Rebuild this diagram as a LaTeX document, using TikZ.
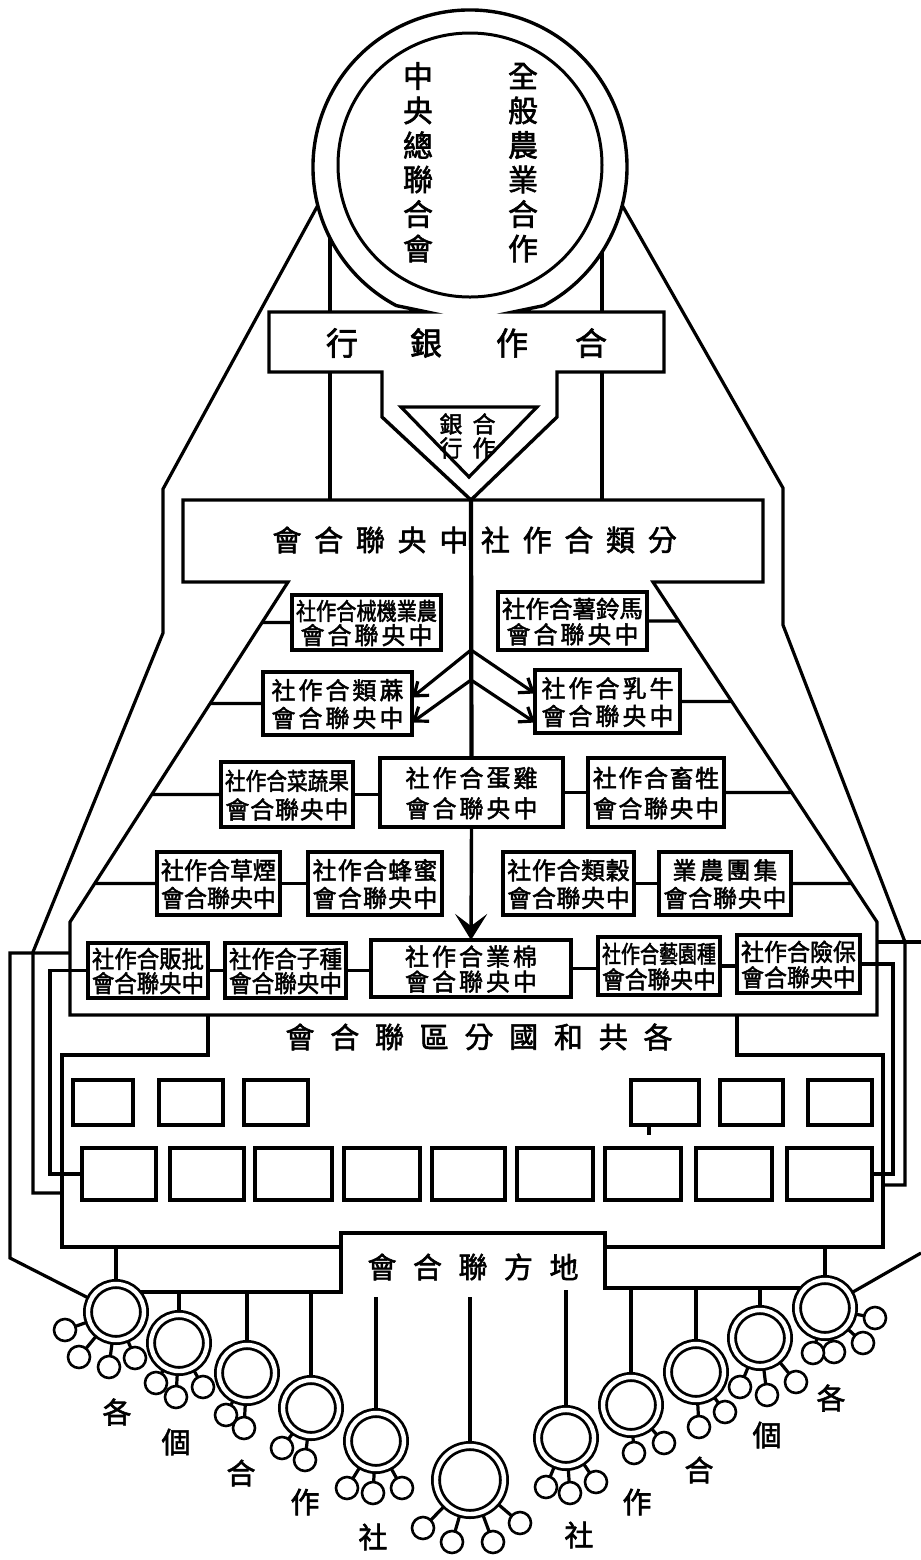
\documentclass[tikz,border=0pt]{standalone}
\usepackage{fontspec}
\usepackage{graphicx}
\usetikzlibrary{arrows.meta,calc}
\newfontfamily\cjk{Noto Sans CJK TC}[FakeBold=2]
\pgfdeclarelayer{bg}
\pgfsetlayers{bg,main}
\newcommand\fsz[1]{\fontsize{#1}{#1}\selectfont}
\newcommand\spreadline[5]{%
  \pgfmathsetmacro\myCell{min(27,(#2-#1-8)/#4)}%
  \pgfmathsetmacro\mySc{min(1,\myCell/24)}%
  \foreach \myc [count=\i] in {#5}{%
    \node[btxt] at ({(#1+#2)/2+(\i-(#4+1)/2)*\myCell},#3) {\scalebox{\mySc}[1]{\myc}};
  }%
}
\newcommand\mkbox[9]{%
  \node[bx, minimum width={(#4-#2)*0.5pt}, minimum height={(#5-#3)*0.5pt}] (#1) at ({(#2+#4)/2},{(#3+#5)/2}) {};
  \pgfmathsetmacro\myYa{#3+0.29*(#5-#3)}%
  \pgfmathsetmacro\myYb{#3+0.73*(#5-#3)}%
  \spreadline{#2}{#4}{\myYa}{#6}{#7}%
  \spreadline{#2}{#4}{\myYb}{#8}{#9}%
}
\begin{document}
\begin{tikzpicture}[x=0.5pt,y=-0.5pt,
  fr/.style={line width=1.6pt, line join=miter},
  bx/.style={draw, line width=1.9pt, fill=white, inner sep=0pt, outer sep=0pt},
  sq/.style={draw, line width=1.8pt, fill=white, inner sep=0pt, outer sep=0pt},
  btxt/.style={inner sep=0pt, font=\cjk\fsz{12pt}},
  mtxt/.style={inner sep=0pt, font=\cjk\fsz{14.5pt}},
  ktxt/.style={inner sep=0pt, font=\cjk\fsz{16pt}},
  rtxt/.style={inner sep=0pt, font=\cjk\fsz{15pt}},
  ttxt/.style={inner sep=0pt, font=\cjk\fsz{11.5pt}},
  bigc/.style={circle, draw, line width=1.4pt, double=white, double distance=2.2pt, fill=white, minimum size=28pt, inner sep=0pt},
  hugec/.style={bigc, minimum size=34pt},
  smc/.style={circle, draw, line width=1.3pt, fill=white, minimum size=11pt, inner sep=0pt},
]
\useasboundingbox (0,0) rectangle (921,1560);
\begin{pgfonlayer}{bg}
\fill[white] (0,0) rectangle (921,1560);
\end{pgfonlayer}

% ---------- key coordinates ----------
\coordinate (ringC) at (470,167);
\coordinate (ringL) at (318,205);
\coordinate (ringR) at (622,205);
\coordinate (fl1) at (288,582); \coordinate (fl2) at (70,922);
\coordinate (fr1) at (653,582); \coordinate (fr2) at (877,922);
\coordinate (tip) at (471,500);
\coordinate (m1) at (471,650);
\coordinate (m2) at (471,680);

% ---------- outer frame lines ----------
\draw[fr] (ringL) -- (163,489) -- (163,633) -- (33,952) -- (33,1193) -- (62,1193);
\draw[fr] (ringR) -- (783,488) -- (783,625) -- (905,942) -- (905,1185) -- (883,1185);
\draw[fr] (330,238) -- (330,312);
\draw[fr] (330,372) -- (330,500);
\draw[fr] (602,252) -- (602,312);
\draw[fr] (602,372) -- (602,500);

% ---------- ring + bank ----------
\draw[line width=1.7pt, fill=white, line join=miter] (427,312) -- (269,312) -- (269,372) -- (382,372) -- (382,417) -- (tip) -- (557,417) -- (557,372) -- (664,372) -- (664,312) -- (513,312) -- (543.7,305.6) arc[start angle=62, end angle=-242, radius=157] -- cycle;
\draw[line width=1.5pt] (470,165) circle[radius=132];
\foreach \ch [count=\i] in {中,央,總,聯,合,會} \node[rtxt] (rl\i) at (418,{76+34.5*(\i-1)}) {\ch};
\foreach \ch [count=\i] in {全,般,農,業,合,作} \node[rtxt] (rr\i) at (523,{76+34.5*(\i-1)}) {\ch};
\foreach \ch/\xx [count=\i] in {行/342,銀/426,作/512,合/591} \node[ktxt] (bk\i) at (\xx,343) {\ch};
\draw[line width=1.6pt, fill=white, line join=miter] (401,407) -- (537,407) -- (469,477) -- cycle;
\node[ttxt] (t1) at (451,424) {銀};
\node[ttxt] (t2) at (484,424) {合};
\node[ttxt] (t3) at (451,448) {行};
\node[ttxt] (t4) at (484,448) {作};

% ---------- classification frame ----------
\draw[fr] (183,500) -- (763,500) -- (763,582) -- (fr1) -- (fr2) -- (877,1015) -- (70,1015) -- (fl2) -- (fl1) -- (183,582) -- cycle;
\foreach \ch [count=\i] in {會,合,聯,央,中,社,作,合,類,分} \node[mtxt] (fx\i) at ({287+41.7*(\i-1)},540) {\ch};

% ---------- republic frame ----------
\draw[fr] (208,1015) -- (208,1055) -- (62,1055) -- (62,1247) -- (341,1247) -- (341,1233) -- (605,1233) -- (605,1247) -- (883,1247) -- (883,1055) -- (737,1055) -- (737,1015);
\foreach \ch [count=\i] in {會,合,聯,區,分,國,和,共,各} \node[mtxt] (rp\i) at ({300+44.75*(\i-1)},1037) {\ch};
\foreach \ch [count=\i] in {會,合,聯,方,地} \node[mtxt] (lc\i) at ({382+45.5*(\i-1)},1267) {\ch};

% ---------- small boxes ----------
\mkbox{A}{292}{595}{441}{650}{7}{社,作,合,械,機,業,農}{5}{會,合,聯,央,中}
\mkbox{B}{498}{592}{647}{650}{6}{社,作,合,薯,鈴,馬}{5}{會,合,聯,央,中}
\mkbox{C}{263}{672}{412}{735}{5}{社,作,合,類,蔴}{5}{會,合,聯,央,中}
\mkbox{D}{535}{670}{680}{733}{5}{社,作,合,乳,牛}{5}{會,合,聯,央,中}
\mkbox{E}{221}{762}{353}{827}{6}{社,作,合,菜,蔬,果}{5}{會,合,聯,央,中}
\mkbox{F}{380}{758}{563}{827}{5}{社,作,合,蛋,雞}{5}{會,合,聯,央,中}
\mkbox{G}{588}{758}{724}{827}{5}{社,作,合,畜,牲}{5}{會,合,聯,央,中}
\mkbox{H}{157}{852}{280}{915}{5}{社,作,合,草,煙}{5}{會,合,聯,央,中}
\mkbox{I}{308}{852}{442}{915}{5}{社,作,合,蜂,蜜}{5}{會,合,聯,央,中}
\mkbox{J}{503}{852}{634}{915}{5}{社,作,合,類,穀}{5}{會,合,聯,央,中}
\mkbox{K}{659}{852}{791}{915}{4}{業,農,團,集}{5}{會,合,聯,央,中}
\mkbox{L}{88}{943}{208}{998}{5}{社,作,合,販,批}{5}{會,合,聯,央,中}
\mkbox{M}{225}{943}{346}{998}{5}{社,作,合,子,種}{5}{會,合,聯,央,中}
\mkbox{N}{371}{940}{571}{997}{5}{社,作,合,業,棉}{5}{會,合,聯,央,中}
\mkbox{O}{598}{937}{720}{995}{6}{社,作,合,藝,園,種}{5}{會,合,聯,央,中}
\mkbox{P}{737}{935}{860}{993}{5}{社,作,合,險,保}{5}{會,合,聯,央,中}

% ---------- squares ----------
\foreach \xa/\xb [count=\k] in {73/133,159/223,244/308,631/699,720/783,808/872}
  \node[sq, minimum width={(\xb-\xa)*0.5pt}, minimum height=22.5pt] (U\k) at ({(\xa+\xb)/2},1102.5) {};
\foreach \xa/\xb [count=\k] in {82/156,170/244,255/332,344/420,432/505,517/593,605/681,696/772,787/872}
  \node[sq, minimum width={(\xb-\xa)*0.5pt}, minimum height=26pt] (Q\k) at ({(\xa+\xb)/2},1174) {};
\draw[fr] (U4.south -| 649,0) -- (649,1135);

% ---------- connectors ----------
\begin{pgfonlayer}{bg}
\draw[fr] (A.west) -- (intersection of A.west--A.east and fl1--fl2);
\draw[fr] (C.west) -- (intersection of C.west--C.east and fl1--fl2);
\draw[fr] (E.west) -- (intersection of E.west--E.east and fl1--fl2);
\draw[fr] (H.west) -- (intersection of H.west--H.east and fl1--fl2);
\draw[fr] (B.east) -- (intersection of B.west--B.east and fr1--fr2);
\draw[fr] (D.east) -- (intersection of D.west--D.east and fr1--fr2);
\draw[fr] (G.east) -- (intersection of G.west--G.east and fr1--fr2);
\draw[fr] (K.east) -- (intersection of K.west--K.east and fr1--fr2);
\draw[fr] (E.east) -- (E.east -| F.west);
\draw[fr] (F.east) -- (F.east -| G.west);
\draw[fr] (H.east) -- (H.east -| I.west);
\draw[fr] (J.east) -- (J.east -| K.west);
\draw[fr] (L.east) -- (L.east -| M.west);
\draw[fr] (M.east) -- (M.east -| N.west);
\draw[fr] (N.east) -- (N.east -| O.west);
\draw[fr] (O.east) -- (O.east -| P.west);
\draw[fr] (L.west) -- (L.west -| 50,0) -- (50,1174) -- (Q1.west);
\draw[fr] (P.east) -- (P.east -| 893,0) -- (893,1174) -- (Q9.east);
\draw[fr] (70,953) -- (10,953) -- (10,1258) -- (116,1312);
\draw[fr] (877,942) -- (921,942);
\end{pgfonlayer}
\draw[line width=2.1pt] (tip) -- (F.north);
\draw[line width=1.7pt, -{Stealth[length=13pt,width=16pt,inset=6pt]}] (F.south) -- (N.north);
\draw[fr, -{Straight Barb[length=6pt,width=9pt]}] (m1) -- ($(C.east)+(0,-6)$);
\draw[fr, -{Straight Barb[length=6pt,width=9pt]}] (m2) -- ($(C.east)+(0,19)$);
\draw[fr, -{Straight Barb[length=6pt,width=9pt]}] (m1) -- ($(D.east)+(-145,-8)$);
\draw[fr, -{Straight Barb[length=6pt,width=9pt]}] (m2) -- ($(D.east)+(-145,21)$);

% ---------- bottom circles ----------
\foreach \nm/\cx/\cy in {c1/116/1312, c2/179/1343, c3/247/1373, c4/311/1408, c5/376/1441, c6/470/1480, c7/566/1438, c8/631/1405, c9/696/1372, c10/760/1338, c11/825/1308}
  \coordinate (\nm) at (\cx,\cy);
\begin{pgfonlayer}{bg}
\draw[fr] (341,1247) -- (341,1292) -- (116,1292);
\draw[fr] (605,1247) -- (605,1288) -- (825,1288);
\draw[fr] (921,1253) -- (c11);
\draw[fr] (c1 |- 0,1247) -- (c1);
\draw[fr] (c11 |- 0,1247) -- (c11);
\foreach \nm/\yy in {c2/1292,c3/1292,c4/1292,c5/1297,c6/1297,c7/1290,c8/1288,c9/1288,c10/1288}
  \draw[fr] (\nm |- 0,\yy) -- (\nm);
\foreach \p/\sx/\sy [count=\k] in {c1/65/1330, c1/79/1357, c1/109/1367, c1/135/1358,
   c2/156/1383, c2/176/1397, c2/203/1387,
   c3/226/1415, c3/244/1428,
   c4/282/1448, c4/305/1460,
   c5/347/1488, c5/373/1493, c5/402/1488,
   c6/423/1528, c6/452/1542, c6/493/1542, c6/520/1523,
   c7/546/1487, c7/570/1493, c7/596/1482,
   c8/634/1453, c8/664/1443,
   c9/699/1427, c9/725/1412,
   c10/740/1387, c10/767/1395, c10/796/1382,
   c11/875/1318, c11/863/1343, c11/834/1352, c11/813/1353}
  {\coordinate (s\k) at (\sx,\sy); \draw[fr] (\p) -- (s\k);}
\end{pgfonlayer}
\foreach \nm in {c1,c2,c3,c4,c5,c7,c8,c9,c10,c11} \node[bigc] (N\nm) at (\nm) {};
\node[hugec] (Nc6) at (c6) {};
\foreach \sx/\sy [count=\k] in {65/1330, 79/1357, 109/1367, 135/1358,
   156/1383, 176/1397, 203/1387, 226/1415, 244/1428, 282/1448, 305/1460,
   347/1488, 373/1493, 402/1488, 423/1528, 452/1542, 493/1542, 520/1523,
   546/1487, 570/1493, 596/1482, 634/1453, 664/1443, 699/1427, 725/1412,
   740/1387, 767/1395, 796/1382, 875/1318, 863/1343, 834/1352, 813/1353}
  \node[smc] (S\k) at (\sx,\sy) {};
\foreach \ch/\xx/\yy [count=\k] in {各/117/1412, 個/176/1442, 合/241/1473, 作/305/1502, 社/373/1537,
   社/579/1535, 作/637/1502, 合/699/1470, 個/767/1435, 各/831/1398}
  \node[mtxt] (lab\k) at (\xx,\yy) {\ch};
\end{tikzpicture}
\end{document}
